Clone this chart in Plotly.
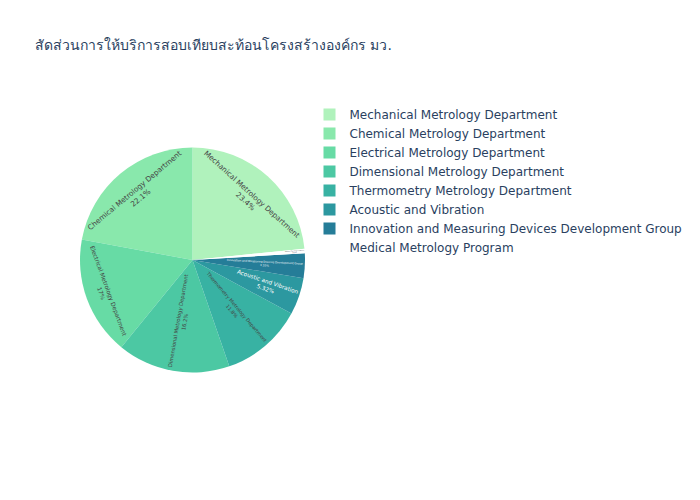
import plotly.graph_objects as go

departments = [
    "Mechanical Metrology Department",
    "Chemical Metrology Department",
    "Electrical Metrology Department",
    "Dimensional Metrology Department",
    "Thermometry Metrology Department",
    "Acoustic and Vibration",
    "Innovation and Measuring Devices Development Group",
    "Medical Metrology Program",
]
shares = [23.4, 22.1, 17.0, 16.2, 11.8, 5.32, 3.55, 0.63]
slice_colors = [
    "rgb(176, 242, 188)", "rgb(137, 232, 172)", "rgb(103, 219, 165)",
    "rgb(76, 200, 163)", "rgb(56, 178, 163)", "rgb(44, 152, 160)",
    "rgb(37, 125, 152)", "rgb(255, 255, 255)",
]
title_text = "สัดส่วนการให้บริการสอบเทียบสะท้อนโครงสร้างองค์กร มว."

fig = go.Figure(go.Pie(
    labels=departments,
    values=shares,
    marker=dict(colors=slice_colors),
    textinfo="label+percent",
    textposition="inside",
    sort=True,
))
fig.update_layout(
    template="plotly_white",
    font=dict(family="DejaVu Sans"),
    title=dict(text=title_text, font=dict(size=14)),
    width=700,
    height=500,
)
fig.write_html(
    "out.html",
    config={"displayModeBar": False},
    post_script="document.body.style.margin='0px';",
)
